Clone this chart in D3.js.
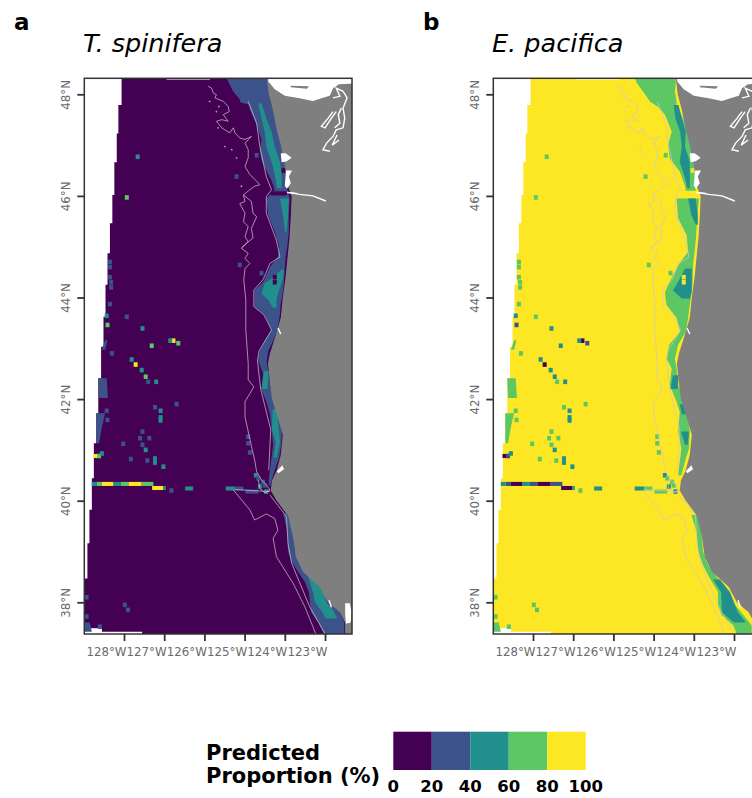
<!DOCTYPE html>
<html>
<head>
<meta charset="utf-8">
<script src="https://cdn.jsdelivr.net/npm/d3@7"></script>
<style>
  html, body { margin: 0; background: #fff; }
  svg { display: block; font-family: "DejaVu Sans"; }
</style>
</head>
<body>
<svg id="chart" width="752" height="798"></svg>
<script>
// values, all as lat / lon
const lonTicks = [-128, -127, -126, -125, -124, -123]
const latTicks = [38, 40, 42, 44, 46, 48]
const legendBreaks = [0, 20, 40, 60, 80, 100]
const classColours = ['#440154', '#3B528B', '#21908C', '#5DC863', '#FDE725']

// west edge of the raster swath [lat, lon]
const swathEdge = [[48.33,-128.06],[47.79,-128.14],[47.23,-128.18],[46.66,-128.24],[46.02,-128.29],[45.46,-128.35],
  [44.87,-128.41],[44.25,-128.46],[43.62,-128.51],[43.03,-128.57],[42.41,-128.64],[41.72,-128.69],[41.13,-128.75],
  [40.44,-128.80],[39.82,-128.86],[39.16,-128.91],[38.47,-128.97],[37.3,-128.97]]
// no-data slivers [latTop, latBottom, lonWest, lonEast]
const swathGaps = [[48.33,48.29,-126.94,-125.86],[37.49,37.3,-128.99,-128.55],[37.42,37.3,-128.55,-127.55],[37.37,37.3,-127.55,-126.15]]

const coastline = [[48.33,-124.45],[48.0,-124.40],[47.7,-124.30],[47.3,-124.20],[47.0,-124.10],[46.6,-124.0],[46.2,-123.93],
  [46.0,-123.83],[45.6,-123.85],[45.2,-123.88],[44.8,-123.93],[44.4,-123.98],[44.0,-124.05],[43.6,-124.10],[43.2,-124.25],
  [42.9,-124.37],[42.7,-124.42],[42.3,-124.37],[42.0,-124.32],[41.7,-124.2],[41.3,-124.05],[40.9,-124.1],[40.6,-124.2],
  [40.4,-124.32],[40.2,-124.35],[40.0,-124.2],[39.7,-123.92],[39.3,-123.8],[38.9,-123.73],[38.6,-123.55],[38.3,-123.13],
  [38.0,-122.93],[37.8,-122.63],[37.6,-122.5],[37.3,-122.5]]

// T. spinifera: 20-40 % and 40-60 % bands, rows of [lat, west, east]
const tsBlue = [
  [[48.33,-125.45,-124.43],[48.25,-125.41,-124.41],[48.05,-125.28,-124.37],[47.9,-125.12,-124.35],[47.84,-125.1,-124.35],[47.8,-124.9,-124.33],[47.7,-124.87,-124.25],[47.4,-124.70,-124.17],
   [47.1,-124.58,-124.06],[46.9,-124.62,-124.02],[46.7,-124.58,-124.0],[46.5,-124.46,-123.98],[46.3,-124.33,-123.94],[46.12,-124.25,-123.94],
   [45.95,-124.46,-123.88],[45.6,-124.41,-123.90],[45.3,-124.25,-123.90],[45.0,-124.14,-123.94],[44.8,-124.17,-123.98],[44.6,-124.37,-124.0],
   [44.3,-124.54,-124.02],[44.15,-124.75,-124.04],[43.82,-124.75,-124.11],[43.66,-124.5,-124.12],[43.36,-124.33,-124.19],[43.15,-124.5,-124.29],
   [42.95,-124.62,-124.41],[42.75,-124.66,-124.45],[42.5,-124.54,-124.41],[42.2,-124.58,-124.35],[41.95,-124.46,-124.29],[41.7,-124.37,-124.17],
   [41.4,-124.33,-124.06],[41.1,-124.29,-124.09],[40.85,-124.33,-124.14],[40.6,-124.37,-124.25],[40.4,-124.40,-124.33],[40.3,-124.40,-124.36]],
  [[39.75,-124.04,-123.94],[39.4,-123.94,-123.81],[39.0,-123.92,-123.75],[38.8,-123.83,-123.67],[38.6,-123.67,-123.5],[38.4,-123.5,-123.21],
   [38.2,-123.40,-123.03],[38.0,-123.38,-122.93],[37.8,-123.34,-122.63],[37.6,-123.17,-122.52],[37.3,-122.98,-122.52]],
  // offshore patches along the west edge
  [[43.16,-128.47,-128.41],[42.97,-128.55,-128.47]],
  [[42.41,-128.64,-128.43],[42.02,-128.62,-128.40]],
  [[41.72,-128.69,-128.47],[41.45,-128.69,-128.55],[41.13,-128.69,-128.62]],
  [[37.6,-128.97,-128.85],[37.42,-128.97,-128.8]]
]
const tsTeal = [
  [[47.82,-124.66,-124.58],[47.53,-124.58,-124.46],[47.27,-124.5,-124.33],[46.97,-124.46,-124.25],[46.67,-124.33,-124.12],[46.41,-124.25,-124.08],[46.15,-124.19,-124.08]],
  [[45.95,-124.12,-123.9],[45.6,-124.04,-123.92],[45.3,-124.0,-123.95]],
  [[44.55,-124.08,-124.02],[44.4,-124.28,-124.04],[44.28,-124.50,-124.08],[44.08,-124.58,-124.17],[43.95,-124.41,-124.21],[43.8,-124.3,-124.2]],
  [[42.55,-124.52,-124.4],[42.2,-124.58,-124.43]],
  [[41.8,-124.3,-124.2],[41.4,-124.32,-124.15],[41.15,-124.22,-124.12],[40.85,-124.28,-124.2]],
  [[38.5,-123.42,-123.26],[38.2,-123.3,-123.02],[38.0,-123.25,-122.97],[37.85,-123.1,-122.8],[37.68,-122.98,-122.7]]
]
// E. pacifica: 60-80 % and 40-60 % bands
const epGreen = [
  [[48.33,-125.47,-124.45],[48.22,-125.42,-124.45],[48.05,-125.26,-124.47],[47.86,-125.09,-124.43],[47.75,-124.89,-124.43],[47.6,-124.72,-124.31],[47.27,-124.55,-124.14],
   [47.0,-124.64,-124.02],[46.74,-124.6,-124.0],[46.48,-124.35,-123.98],[46.2,-124.22,-123.95],[46.1,-124.2,-123.95]],
  [[45.95,-124.43,-123.87],[45.56,-124.39,-123.92],[45.23,-124.18,-123.94],[44.9,-124.14,-123.98],[44.64,-124.39,-124.02],[44.31,-124.6,-124.03],[44.1,-124.72,-124.05],
   [43.85,-124.68,-124.1],[43.6,-124.43,-124.14],[43.33,-124.34,-124.2],[43.07,-124.61,-124.39],[42.8,-124.68,-124.47],[42.6,-124.55,-124.43],[42.28,-124.6,-124.39],
   [41.95,-124.43,-124.22],[41.75,-124.35,-124.16],[41.36,-124.39,-124.1],[41.03,-124.31,-124.12],[40.77,-124.35,-124.22],[40.5,-124.39,-124.31]],
  [[39.72,-124.06,-123.9],[39.39,-123.93,-123.81],[39.0,-123.89,-123.77],[38.73,-123.77,-123.64],[38.47,-123.6,-123.4],[38.21,-123.4,-123.11],[37.95,-123.4,-122.98],
   [37.75,-123.31,-122.77],[37.55,-123.02,-122.56],[37.39,-122.94,-122.56],[37.3,-122.94,-122.56]],
  [[43.16,-128.47,-128.41],[42.97,-128.55,-128.47]],
  [[42.41,-128.64,-128.43],[42.02,-128.62,-128.40]],
  [[41.72,-128.69,-128.47],[41.45,-128.69,-128.55],[41.13,-128.69,-128.62]],
  [[37.6,-128.97,-128.85],[37.42,-128.97,-128.8]]
]
const epTeal = [
  [[47.79,-124.5,-124.38],[47.53,-124.46,-124.3],[47.27,-124.34,-124.2],[46.97,-124.3,-124.22],[46.67,-124.35,-124.1],[46.35,-124.22,-124.1],[46.15,-124.16,-124.1]],
  [[45.95,-124.14,-123.95],[45.62,-124.06,-123.9],[45.43,-123.95,-123.9]],
  [[44.57,-124.22,-124.05],[44.31,-124.39,-124.05],[44.14,-124.52,-124.05],[43.98,-124.3,-124.1]],
  [[42.47,-124.52,-124.38],[42.2,-124.58,-124.4]],
  [[41.9,-124.35,-124.2],[41.7,-124.3,-124.18]],
  [[41.36,-124.32,-124.12],[41.1,-124.22,-124.15]],
  [[38.45,-123.52,-123.35],[38.2,-123.32,-123.1],[37.8,-123.3,-122.9],[37.6,-123.0,-122.7]]
]

// single raster cells: position, then class in each panel
const cellLats = [46.77,45.97,46.38,44.64,44.7,44.6,44.4,44.3,44.2,43.87,43.64,43.46,43.62,43.39,43.15,43.1,43.15,43.05,42.78,42.68,42.57,42.44,42.34,42.34,
  41.84,41.77,41.64,41.58,41.9,41.77,41.59,41.36,41.23,41.23,41.12,41.1,41.0,40.83,40.75,40.79,40.82,40.67,40.2,41.26,41.13,40.95,46.8,44.48,
  40.5,40.44,40.37,40.28,40.18,40.3,37.95,37.85,38.1,37.72,37.52,44.4,44.3,46.5,42.9,40.88,40.93]
const cellLons = [-127.66,-127.93,-125.2,-125.12,-128.35,-128.35,-128.35,-128.32,-128.32,-128.35,-128.43,-128.41,-127.93,-127.54,-126.77,-126.65,-126.85,-127.31,-127.81,-127.71,-127.56,-127.46,-127.4,-127.2,
  -127.23,-127.09,-127.09,-127.09,-126.69,-128.43,-128.41,-127.54,-127.6,-127.37,-128.02,-127.54,-127.46,-127.23,-127.23,-127.42,-127.83,-127.02,-126.82,-124.91,-124.91,-124.87,-124.7,-124.58,
  -124.72,-124.66,-124.54,-124.62,-124.46,-124.5,-127.98,-127.9,-128.93,-128.93,-128.6,-124.25,-124.25,-124.03,-128.3,-128.62,-128.55]
const cellsTs = [2,3,1,1,1,1,1,1,1,1,2,3,1,2,4,3,2,3,2,4,2,3,1,2,1,2,2,2,1,1,1,1,1,1,1,1,2,2,2,1,1,2,1,1,1,1,1,1,2,1,1,2,2,1,1,1,1,1,1,0,0,0,1,3,2]
const cellsEp = [3,3,3,3,3,3,3,3,3,3,2,1,3,2,0,1,2,2,2,0,2,2,3,2,3,2,2,2,3,3,3,3,3,3,3,3,2,2,2,3,3,2,3,3,3,3,3,3,2,3,3,2,2,3,3,3,3,3,3,4,4,4,3,1,2]

// strips along the anomaly rows [lat, west, east]
const stripLats = [40.33,40.33,40.33,40.33,40.33,40.33,40.33,40.25,40.25,40.24,40.24,40.24,40.18,46.05,40.88,40.88]
const stripWest = [-128.80,-128.68,-128.55,-128.26,-128.08,-127.89,-127.56,-127.3,-127.02,-126.48,-125.47,-125.24,-124.98,-124.36,-128.76,-128.66]
const stripEast = [-128.68,-128.55,-128.26,-128.08,-127.89,-127.56,-127.27,-127.02,-126.96,-126.28,-125.24,-125.03,-124.66,-123.95,-128.66,-128.58]
const stripsTs = [2,3,4,2,3,4,3,4,2,2,2,1,1,0,4,3]
const stripsEp = [2,1,0,2,1,0,1,0,2,2,2,3,3,4,0,1]

// water cut into the land [lat, lon]
const strait = [[48.36,-124.42],[48.25,-124.41],[48.10,-124.25],[47.97,-124.0],[47.92,-123.63],[47.87,-123.3],[47.93,-123.05],[47.97,-122.88],[48.12,-122.80],[48.2,-122.65],[48.22,-122.0],[48.36,-122.0]]
const straitIsland = [[48.17,-123.85],[48.16,-123.4],[48.11,-123.45],[48.14,-123.85]]
const grays = [[46.84,-124.1],[46.84,-123.98],[46.75,-123.83],[46.68,-123.95],[46.66,-124.08]]
const willapa = [[46.5,-123.97],[46.5,-123.82],[46.38,-123.9],[46.25,-123.85],[46.14,-123.95],[46.2,-124.0]]
const frisco = [[37.98,-122.5],[37.98,-122.38],[37.8,-122.34],[37.6,-122.36],[37.58,-122.48],[37.78,-122.5]]
const humboldt = [[40.7,-124.06],[40.62,-124.02],[40.54,-124.16],[40.58,-124.2]]
const inlets = [
  [[47.93,-122.80],[47.96,-122.63],[48.12,-122.72],[48.06,-122.55],[47.93,-122.45],[47.73,-122.55],[47.53,-122.51],[47.34,-122.55],[47.30,-122.72],[47.17,-122.80],[47.04,-122.96],[46.91,-123.05],[46.88,-122.88]],
  [[47.66,-122.80],[47.53,-122.92],[47.37,-123.09],[47.34,-123.0],[47.53,-122.84],[47.66,-122.72]],
  [[47.73,-122.59],[47.6,-122.67],[47.43,-122.63],[47.34,-122.76]],
  [[47.2,-122.7],[47.0,-122.82],[47.1,-122.65]],
  [[46.07,-123.94],[46.03,-123.63],[46.0,-123.3],[45.9,-122.98]],
  [[46.07,-123.94],[46.05,-123.7]],
  [[43.4,-124.17],[43.28,-124.1]],
  [[38.04,-122.9],[37.9,-122.84]]
]

// depth contours
const contours = [
  [[48.16,-125.91],[48.12,-125.82],[48.03,-125.78],[47.99,-125.70],[47.93,-125.74],[47.86,-125.53],[47.76,-125.41],[47.66,-125.38],[47.60,-125.53],[47.47,-125.41],[47.50,-125.57],[47.47,-125.70],
   [47.34,-125.57],[47.24,-125.37],[47.34,-125.28],[47.24,-125.24],[47.14,-125.12],[47.11,-124.99],[47.17,-124.83],[47.04,-124.99],[46.91,-124.91],[46.75,-124.91],[46.58,-124.99],[46.42,-124.87],
   [46.29,-124.70],[46.22,-124.62],[46.19,-124.75],[46.12,-124.87],[46.02,-125.03],[45.89,-124.99],[45.85,-125.12],[45.66,-124.99],[45.49,-125.03],[45.40,-124.91],[45.20,-124.99],[45.10,-124.91],
   [44.97,-125.08],[44.87,-124.91],[44.77,-124.99],[44.67,-124.87],[44.57,-124.99],[44.35,-125.02],[43.95,-124.97],[43.36,-124.97],[42.70,-124.91],[42.38,-124.91],[42.24,-124.77],[41.95,-124.99],
   [41.65,-124.99],[41.0,-124.81],[40.8,-124.75],[40.57,-124.70],[40.41,-124.58],[40.31,-124.46],[40.21,-124.37],[40.15,-124.49],[40.24,-124.62],[40.41,-124.66]],
  [[46.02,-125.03],[45.89,-124.83],[45.66,-124.79],[45.59,-124.70],[45.36,-124.83],[45.17,-124.79],[45.07,-124.95],[44.97,-125.08]],
  [[39.82,-124.87],[39.62,-124.75],[39.74,-124.46],[39.65,-124.25],[39.42,-124.17],[39.26,-124.29],[38.90,-124.21],[38.37,-123.79],[37.91,-123.50],[37.36,-123.22]],
  [[40.21,-125.28],[39.82,-124.87]],
  [[40.22,-125.24],[40.18,-124.37]],
  [[40.11,-124.37],[39.69,-123.96],[39.16,-123.92],[38.77,-123.83],[37.91,-123.38],[37.36,-122.98]],
  [[47.86,-124.91],[47.43,-124.70],[46.97,-124.62],[46.38,-124.46],[46.12,-124.33],[45.99,-124.46],[45.66,-124.46],[45.13,-124.21],[44.80,-124.12],[44.67,-124.37],[44.35,-124.54],
   [44.15,-124.77],[43.82,-124.77],[43.66,-124.52],[43.36,-124.33],[42.95,-124.64],[42.75,-124.68],[42.2,-124.6],[41.4,-124.35],[40.6,-124.4]]
]
const contourDotLats = [47.86,47.76,47.66,47.34,46.97,46.91,46.75,46.19]
const contourDotLons = [-125.87,-125.64,-125.70,-125.66,-125.49,-125.32,-125.2,-125.08]

const svg = d3.select('#chart')
const frameY = [78.3, 634]
const y = d3.scaleLinear().domain([38, 48]).range([602.3, 94.3])

function drawPanel (name, dx, tag, title, base, lowBands, lowClass, tealBands, cellClass, stripClass) {
    const x = d3.scaleLinear().domain([-128, -123]).range([124 + dx, 325 + dx])
    const left = 84.3 + dx
    const right = 352 + dx

    svg.append('text').text(tag)
    .attr('x', 14 + dx)
    .attr('y', 30)
    .attr('font-weight', 'bold')
    .style('font-size', '23px')

    svg.append('text').text(title)
    .attr('x', 83 + dx)
    .attr('y', 52)
    .attr('font-style', 'italic')
    .style('font-size', '25.5px')

    svg.append('clipPath').attr('id', 'clip-' + name)
    .append('rect')
    .attr('x', left).attr('y', frameY[0])
    .attr('width', right - left).attr('height', frameY[1] - frameY[0])

    const g = svg.append('g')
    .attr('clip-path', `url(#clip-${name})`)
    .append('g')
    .style('filter', 'blur(0.4px)')

    const band = d3.area()
    .y((d) => y(d[0]))
    .x0((d) => x(d[1]))
    .x1((d) => x(d[2]))

    // swath runs under the land
    const swath = d3.area()
    .y((d) => y(d[0]))
    .x0((d) => x(d[1]))
    .x1(() => x(-122))
    .curve(d3.curveStepBefore)

    g.append('path').attr('d', swath(swathEdge)).attr('fill', classColours[base])

    g.selectAll('rect.gap')
    .data(swathGaps)
    .enter()
    .append('rect')
    .attr('class', 'gap')
    .attr('x', (d) => x(d[2]))
    .attr('y', (d) => y(d[0]))
    .attr('width', (d) => x(d[3]) - x(d[2]))
    .attr('height', (d) => y(d[1]) - y(d[0]))
    .attr('fill', '#fff')

    g.selectAll('path.low')
    .data(lowBands)
    .enter()
    .append('path')
    .attr('class', 'low')
    .attr('d', band)
    .attr('fill', classColours[lowClass])

    g.selectAll('path.teal')
    .data(tealBands)
    .enter()
    .append('path')
    .attr('class', 'teal')
    .attr('d', band)
    .attr('fill', classColours[2])

    g.selectAll('rect.strip')
    .data(stripLats)
    .enter()
    .append('rect')
    .attr('class', 'strip')
    .attr('x', (d, i) => x(stripWest[i]))
    .attr('y', (d) => y(d + 0.04))
    .attr('width', (d, i) => x(stripEast[i]) - x(stripWest[i]))
    .attr('height', (d) => y(d - 0.04) - y(d + 0.04))
    .attr('fill', (d, i) => classColours[stripClass[i]])

    g.selectAll('rect.cell')
    .data(cellLats)
    .enter()
    .append('rect')
    .attr('class', 'cell')
    .attr('x', (d, i) => x(cellLons[i] - 0.05))
    .attr('y', (d) => y(d + 0.045))
    .attr('width', (d, i) => x(cellLons[i] + 0.05) - x(cellLons[i] - 0.05))
    .attr('height', (d) => y(d - 0.045) - y(d + 0.045))
    .attr('fill', (d, i) => classColours[cellClass[i]])

    const line = d3.line().x((d) => x(d[1])).y((d) => y(d[0]))
    const land = coastline.concat([[37.3, -122], [48.36, -122], [48.36, -124.45]])
    g.append('path').attr('d', line(land)).attr('fill', '#7f7f7f')

    g.selectAll('path.water')
    .data([strait, grays, willapa, frisco, humboldt])
    .enter()
    .append('path')
    .attr('class', 'water')
    .attr('d', line)
    .attr('fill', '#fff')

    g.append('path').attr('d', line(straitIsland)).attr('fill', '#7f7f7f')

    g.selectAll('path.inlet')
    .data(inlets)
    .enter()
    .append('path')
    .attr('class', 'inlet')
    .attr('d', line)
    .attr('fill', 'none')
    .attr('stroke', '#fff')
    .attr('stroke-width', 1.4)

    g.selectAll('path.contour')
    .data(contours)
    .enter()
    .append('path')
    .attr('class', 'contour')
    .attr('d', line)
    .attr('fill', 'none')
    .attr('stroke', '#cfc4c8')
    .attr('stroke-opacity', 0.8)
    .attr('stroke-width', 0.9)

    g.selectAll('circle.contourDot')
    .data(contourDotLats)
    .enter()
    .append('circle')
    .attr('class', 'contourDot')
    .attr('cx', (d, i) => x(contourDotLons[i]))
    .attr('cy', (d) => y(d))
    .attr('r', 0.9)
    .attr('fill', '#cfc4c8')
    .attr('fill-opacity', 0.8)

    svg.append('rect')
    .attr('x', left).attr('y', frameY[0])
    .attr('width', right - left).attr('height', frameY[1] - frameY[0])
    .attr('fill', 'none')
    .attr('stroke', '#333')
    .attr('stroke-width', 1.5)

    const xAxis = svg.append('g')
    .attr('transform', `translate(0,${frameY[1]})`)
    .call(d3.axisBottom(x).tickValues(lonTicks).tickSize(7).tickPadding(7).tickFormat((d) => Math.abs(d) + '°W'))
    xAxis.select('.domain').remove()
    xAxis.selectAll('line').attr('stroke', '#333').attr('stroke-width', 1.8)
    xAxis.selectAll('text')
    .attr('text-anchor', 'end')
    .attr('dx', 2)
    .attr('fill', '#6b6b6b')
    .style('font-family', '"DejaVu Sans"')
    .style('font-size', '11.8px')

    const yAxis = svg.append('g')
    .attr('transform', `translate(${left},0)`)
    .call(d3.axisLeft(y).tickValues(latTicks).tickSize(7).tickPadding(0).tickFormat((d) => d + '°N'))
    yAxis.select('.domain').remove()
    yAxis.selectAll('line').attr('stroke', '#333').attr('stroke-width', 1.8)
    yAxis.selectAll('text')
    .attr('x', 0)
    .attr('y', 0)
    .attr('dy', 0)
    .attr('transform', 'translate(-14.5,0) rotate(-90)')
    .attr('text-anchor', 'middle')
    .attr('fill', '#6b6b6b')
    .style('font-family', '"DejaVu Sans"')
    .style('font-size', '11.8px')
}

drawPanel('a', 0, 'a', 'T. spinifera', 0, tsBlue, 1, tsTeal, cellsTs, stripsTs)
drawPanel('b', 409, 'b', 'E. pacifica', 4, epGreen, 3, epTeal, cellsEp, stripsEp)

// legend
const legendX = d3.scaleLinear().domain([0, 100]).range([393.3, 585.7])

svg.selectAll('rect.legendSwatch')
.data(classColours)
.enter()
.append('rect')
.attr('class', 'legendSwatch')
.attr('x', (d, i) => legendX(legendBreaks[i]))
.attr('y', 731.7)
.attr('width', (d, i) => legendX(legendBreaks[i + 1]) - legendX(legendBreaks[i]))
.attr('height', 38.3)
.attr('fill', (d) => d)

svg.selectAll('text.legendLabel')
.data(legendBreaks)
.enter()
.append('text')
.attr('class', 'legendLabel')
.attr('x', (d) => legendX(d))
.attr('y', 792)
.attr('text-anchor', 'middle')
.attr('font-weight', 'bold')
.style('font-size', '16.5px')
.text((d) => d)

svg.append('text').text('Predicted')
.attr('x', 206).attr('y', 760)
.attr('font-weight', 'bold')
.style('font-size', '21px')

svg.append('text').text('Proportion (%)')
.attr('x', 206).attr('y', 783)
.attr('font-weight', 'bold')
.style('font-size', '21px')
</script>
</body>
</html>
